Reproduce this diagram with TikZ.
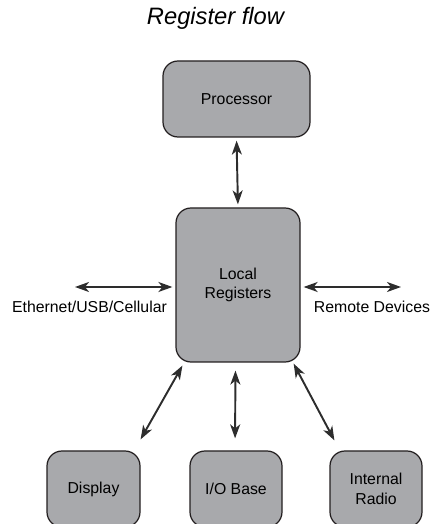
\documentclass[tikz,border=0pt]{standalone}
\usepackage{fontspec}
\setmainfont{Liberation Sans}
\usetikzlibrary{arrows.meta}
\definecolor{boxgray}{RGB}{168,169,172}
\definecolor{edgegray}{RGB}{35,31,32}
\definecolor{arrowgray}{RGB}{45,45,45}
\begin{document}
\begin{tikzpicture}[
    regbox/.style={draw=edgegray, fill=boxgray, line width=0.7pt, rounded corners=0.3cm,
                   align=center, inner sep=0pt, font=\fontsize{9}{11}\selectfont},
    link/.style={{Stealth[length=0.28cm,width=0.2cm,inset=0.08cm]}-{Stealth[length=0.28cm,width=0.2cm,inset=0.08cm]},
                 draw=arrowgray, line width=1.1pt},
    tag/.style={font=\fontsize{9}{11}\selectfont, inner sep=0pt}
  ]
  \useasboundingbox (0,0) rectangle (8.62,10.48);
  \clip (0,0) rectangle (8.62,10.48);

  % Title
  \node (title) at (4.31,10.12) {\fontsize{13.5}{16}\selectfont\itshape Register flow};

  % Boxes
  \node [regbox, minimum width=2.94cm, minimum height=1.52cm] (proc) at (4.73,8.50) {Processor};
  \node [regbox, minimum width=2.48cm, minimum height=3.08cm] (local) at (4.76,4.78) {Local\\Registers};
  \node [regbox, minimum width=1.86cm, minimum height=1.52cm] (disp) at (1.87,0.70) {Display};
  \node [regbox, minimum width=1.84cm, minimum height=1.52cm] (iobase) at (4.72,0.70) {I/O Base};
  \node [regbox, minimum width=1.84cm, minimum height=1.52cm] (radio) at (7.52,0.70) {Internal\\Radio};

  % Outer ends and labels
  \coordinate (ethend) at (1.50,4.74);
  \coordinate (remend) at (8.02,4.74);
  \node [tag] (eth) at (1.79,4.35) {Ethernet/USB/Cellular};
  \node [tag] (remote) at (7.44,4.35) {Remote Devices};

  % Connectors
  \draw [link, shorten <=0.06cm, shorten >=0.06cm] (proc.south) -- (local.north);
  \draw [link, shorten >=0.06cm] (ethend) -- (ethend -| local.west);
  \draw [link, shorten >=0.06cm] (remend) -- (remend -| local.east);
  \draw [link] ([xshift=0.14cm,yshift=-0.06cm]local.south west) -- ([yshift=0.22cm]disp.north east);
  \draw [link, shorten <=0.16cm, shorten >=0.24cm] ([xshift=-0.05cm]local.south) -- ([xshift=-0.02cm]iobase.north);
  \draw [link] ([xshift=-0.14cm,yshift=-0.02cm]local.south east) -- ([xshift=0.10cm,yshift=0.20cm]radio.north west);
\end{tikzpicture}
\end{document}
